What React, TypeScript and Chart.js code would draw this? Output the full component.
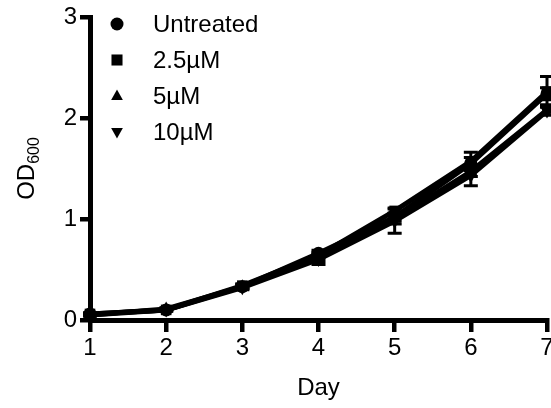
import React, { useEffect, useRef } from "react";
import { Chart, registerables } from "chart.js";

Chart.register(...registerables);

const days = [1, 2, 3, 4, 5, 6, 7];
const yTicks = [0, 1, 2, 3];
const seriesNames = ["Untreated", "2.5µM", "5µM", "10µM"];
const untreated = [0.06, 0.1, 0.33, 0.66, 1.02, 1.55, 2.24];
const um25 = [0.06, 0.1, 0.34, 0.64, 1.08, 1.57, 2.26];
const um5 = [0.05, 0.11, 0.33, 0.62, 1.0, 1.47, 2.08];
const um10 = [0.05, 0.1, 0.32, 0.6, 0.98, 1.43, 2.07];
const errUntreated = [0.01, 0.01, 0.02, 0.03, 0.04, 0.06, 0.06];
const err25 = [0.01, 0.01, 0.02, 0.03, 0.03, 0.09, 0.15];
const err5 = [0.01, 0.01, 0.02, 0.04, 0.05, 0.05, 0.05];
const err10 = [0.01, 0.01, 0.02, 0.05, 0.12, 0.1, 0.04];
const xTitle = "Day";
const yTitleMain = "OD";
const yTitleSub = "600";

const FONT = "'Liberation Sans', Arial, sans-serif";

type Marker = { style: string; rotation: number; radius: number };
const markers: Marker[] = [
  { style: "circle", rotation: 0, radius: 6.5 },
  { style: "rect", rotation: 0, radius: 7.5 },
  { style: "triangle", rotation: 0, radius: 7.5 },
  { style: "triangle", rotation: 180, radius: 7.5 },
];

function drawMarker(ctx: CanvasRenderingContext2D, m: Marker, x: number, y: number, r: number) {
  ctx.save();
  ctx.fillStyle = "#000";
  ctx.translate(x, y);
  ctx.rotate((m.rotation * Math.PI) / 180);
  ctx.beginPath();
  if (m.style === "circle") {
    ctx.arc(0, 0, r, 0, Math.PI * 2);
  } else if (m.style === "rect") {
    const s = r * 0.85;
    ctx.rect(-s, -s, 2 * s, 2 * s);
  } else {
    const s = r;
    ctx.moveTo(0, -s);
    ctx.lineTo(s * 0.9, s * 0.6);
    ctx.lineTo(-s * 0.9, s * 0.6);
    ctx.closePath();
  }
  ctx.fill();
  ctx.restore();
}

const errorBarPlugin = {
  id: "errorBars",
  afterDatasetsDraw(chart: any) {
    const ctx = chart.ctx;
    const yScale = chart.scales.y;
    ctx.save();
    ctx.strokeStyle = "#000";
    ctx.lineWidth = 3;
    chart.data.datasets.forEach((ds: any, di: number) => {
      const meta = chart.getDatasetMeta(di);
      const errs: number[] = ds.errors || [];
      meta.data.forEach((pt: any, i: number) => {
        const v = ds.data[i].y;
        const e = errs[i] || 0;
        const yTop = yScale.getPixelForValue(v + e);
        const yBot = yScale.getPixelForValue(v - e);
        const x = pt.x;
        ctx.beginPath();
        ctx.moveTo(x, yTop);
        ctx.lineTo(x, yBot);
        ctx.moveTo(x - 7, yTop);
        ctx.lineTo(x + 7, yTop);
        ctx.moveTo(x - 7, yBot);
        ctx.lineTo(x + 7, yBot);
        ctx.stroke();
      });
    });
    ctx.restore();
  },
};

const legendPlugin = {
  id: "customLegend",
  afterDraw(chart: any) {
    const ctx = chart.ctx;
    ctx.save();
    ctx.font = `24px ${FONT}`;
    ctx.fillStyle = "#000";
    ctx.textBaseline = "middle";
    ctx.textAlign = "left";
    chart.data.datasets.forEach((ds: any, i: number) => {
      const y = 24 + i * 36;
      drawMarker(ctx, markers[i], 117, y, 6.5);
      ctx.fillStyle = "#000";
      ctx.fillText(ds.label, 153, y + 1);
    });
    ctx.restore();
  },
};

const yTitlePlugin = {
  id: "yTitle",
  afterDraw(chart: any) {
    const ctx = chart.ctx;
    const area = chart.chartArea;
    ctx.save();
    ctx.fillStyle = "#000";
    ctx.font = `24px ${FONT}`;
    const w1 = ctx.measureText(yTitleMain).width;
    ctx.font = `16px ${FONT}`;
    const w2 = ctx.measureText(yTitleSub).width;
    const total = w1 + w2;
    const cy = (area.top + area.bottom) / 2;
    ctx.translate(34, cy);
    ctx.rotate(-Math.PI / 2);
    ctx.textBaseline = "alphabetic";
    ctx.textAlign = "left";
    ctx.font = `24px ${FONT}`;
    ctx.fillText(yTitleMain, -total / 2, 0);
    ctx.font = `16px ${FONT}`;
    ctx.fillText(yTitleSub, -total / 2 + w1, 5);
    ctx.restore();
  },
};

const seriesValues = [untreated, um25, um5, um10];
const seriesErrors = [errUntreated, err25, err5, err10];

export default function App() {
  const ref = useRef<HTMLCanvasElement | null>(null);
  useEffect(() => {
    if (!ref.current) return;
    const datasets = seriesNames.map((name, i) => ({
      label: name,
      data: days.map((d, j) => ({ x: d, y: seriesValues[i][j] })),
      errors: seriesErrors[i],
      borderColor: "#000",
      backgroundColor: "#000",
      borderWidth: 5,
      pointStyle: markers[i].style,
      rotation: markers[i].rotation,
      pointRadius: markers[i].radius,
      pointBorderWidth: 0,
      tension: 0,
      clip: false,
    }));
    const chart = new Chart(ref.current, {
      type: "line",
      data: { datasets } as any,
      plugins: [errorBarPlugin, legendPlugin, yTitlePlugin],
      options: {
        animation: false,
        responsive: false,
        layout: { autoPadding: false, padding: { top: 17, right: 4, left: 0, bottom: 0 } },
        plugins: { legend: { display: false }, tooltip: { enabled: false } },
        scales: {
          x: {
            type: "linear",
            min: days[0],
            max: days[days.length - 1],
            afterBuildTicks: (s: any) => {
              s.ticks = days.map((d) => ({ value: d }));
            },
            afterFit: (s: any) => {
              s.height = 88;
              s.paddingLeft = 0;
              s.paddingRight = 0;
              s.paddingTop = 0;
              s.paddingBottom = 0;
            },
            ticks: {
              color: "#000",
              font: { family: FONT, size: 24 },
              padding: 2,
              maxRotation: 0,
              autoSkip: false,
            },
            grid: {
              display: true,
              drawOnChartArea: false,
              drawTicks: true,
              tickLength: 12,
              lineWidth: 4.5,
              color: "#000",
            },
            border: { display: true, width: 5, color: "#000" },
            title: {
              display: true,
              text: xTitle,
              color: "#000",
              font: { family: FONT, size: 24 },
              padding: { top: 0, bottom: 5 },
            },
          },
          y: {
            type: "linear",
            min: yTicks[0],
            max: yTicks[yTicks.length - 1],
            afterBuildTicks: (s: any) => {
              s.ticks = yTicks.map((v) => ({ value: v }));
            },
            afterFit: (s: any) => {
              s.width = 90;
              s.paddingLeft = 0;
              s.paddingRight = 0;
              s.paddingTop = 0;
              s.paddingBottom = 0;
            },
            ticks: {
              color: "#000",
              font: { family: FONT, size: 24 },
              padding: 3,
            },
            grid: {
              display: true,
              drawOnChartArea: false,
              drawTicks: true,
              tickLength: 10,
              lineWidth: 4.5,
              color: "#000",
            },
            border: { display: true, width: 5, color: "#000" },
          },
        },
      } as any,
    });
    return () => chart.destroy();
  }, []);
  return (
    <div style={{ position: "absolute", left: 0, top: 0, width: 551, height: 408, background: "#fff" }}>
      <canvas ref={ref} width={551} height={408} />
    </div>
  );
}
